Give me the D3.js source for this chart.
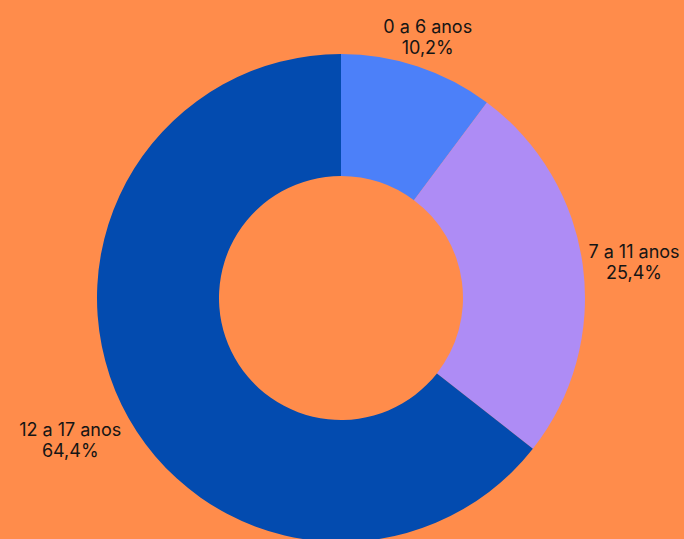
<!DOCTYPE html>
<html><head><meta charset="utf-8">
<script src="https://cdn.jsdelivr.net/npm/d3@7"></script>
<style>
html,body{margin:0;padding:0;background:#FF8C4B;}
svg{display:block;}
text{font-family:Inter,"Noto Sans",sans-serif;font-size:18px;fill:#151515;}
</style></head>
<body>
<svg id="chart" width="684" height="539"></svg>
<script>
const categories = ["0 a 6 anos", "7 a 11 anos", "12 a 17 anos"];
const values = [10.2, 25.4, 64.4];
const valueLabels = ["10,2%", "25,4%", "64,4%"];
const colors = ["#4C80F9", "#AE8CF5", "#034BAF"];

const W = 684, H = 539, cx = 341, cy = 298, R = 244, r = 122;
const svg = d3.select("#chart");
const g = svg.append("g").attr("transform", `translate(${cx},${cy})`);
const pie = d3.pie().sort(null).value(d => d)(values);
const arc = d3.arc().innerRadius(r).outerRadius(R);
g.selectAll("path").data(pie).join("path")
  .attr("d", arc).attr("fill", (d, i) => colors[i]);

const lineH = 21;
pie.forEach((d, i) => {
  const a = (d.startAngle + d.endAngle) / 2;
  const s = Math.sin(a), c = Math.cos(a);
  const Rl = R + 6;
  const px = Rl * s, py = -Rl * c;
  const t = g.append("text").attr("text-anchor", "middle");
  t.append("tspan").attr("x", 0).attr("dy", 0).text(categories[i]);
  t.append("tspan").attr("x", 0).attr("dy", lineH).text(valueLabels[i]);
  const bb = t.node().getBBox();
  const w = bb.width, h = bb.height;
  const bx = px + s * w / 2 - (c > 0.5 ? 6 : 0);
  const by = py - c * h / 2 + (c < 0 ? h * 0.55 : 0) - (c > 0.5 ? 4 : 0);
  const ox = bx - (bb.x + w / 2), oy = by - (bb.y + h / 2);
  t.attr("transform", `translate(${ox},${oy})`);
});
</script>
</body></html>
